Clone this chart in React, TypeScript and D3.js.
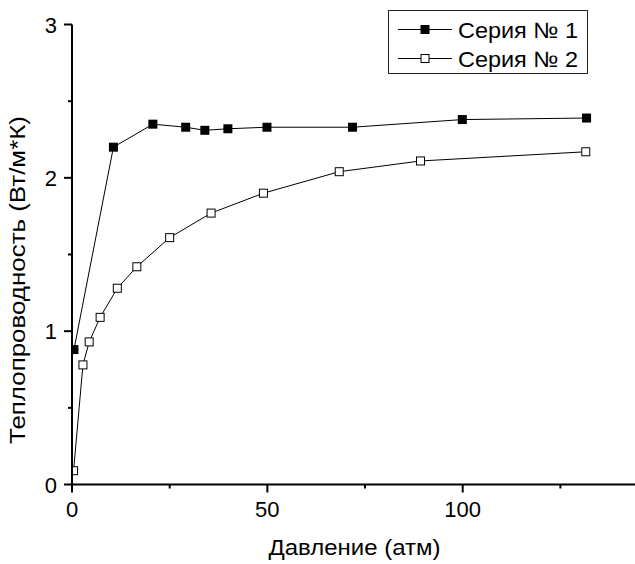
import React from "react";
import * as d3 from "d3";

const series1X = [0.5, 10.6, 20.7, 29.1, 34.0, 39.9, 49.9, 71.8, 99.9, 131.7];
const series1Y = [0.88, 2.2, 2.35, 2.33, 2.31, 2.32, 2.33, 2.33, 2.38, 2.39];
const series2X = [0.4, 2.8, 4.4, 7.2, 11.6, 16.6, 25.0, 35.6, 49.0, 68.4, 89.2, 131.5];
const series2Y = [0.09, 0.78, 0.93, 1.09, 1.28, 1.42, 1.61, 1.77, 1.9, 2.04, 2.11, 2.17];
const xMajorTicks = [0, 50, 100];
const xMinorTicks = [25, 75, 125];
const yMajorTicks = [0, 1, 2, 3];
const yMinorTicks = [0.5, 1.5, 2.5];
const seriesNames = ["Серия № 1", "Серия № 2"];
const xTitle = "Давление (атм)";
const yTitle = "Теплопроводность (Вт/м*К)";

const W = 635;
const H = 564;
const left = 72;
const right = 635;
const top = 24.5;
const bottom = 484.5;
const FONT = "'Liberation Sans', Arial, sans-serif";

export default function App() {
  const x = d3.scaleLinear().domain([0, 144.1]).range([left, right]);
  const y = d3.scaleLinear().domain([0, 3]).range([bottom, top]);
  const line = d3
    .line<[number, number]>()
    .x((d) => x(d[0]))
    .y((d) => y(d[1]));
  const s1: [number, number][] = series1X.map((v, i) => [v, series1Y[i]]);
  const s2: [number, number][] = series2X.map((v, i) => [v, series2Y[i]]);
  const ms = 9;

  return (
    <svg
      width={W}
      height={H}
      style={{ position: "absolute", left: 0, top: 0, background: "#fff" }}
      fontFamily={FONT}
    >
      <defs>
        <clipPath id="plot">
          <rect x={left} y={0} width={right - left} height={bottom} />
        </clipPath>
      </defs>
      <g clipPath="url(#plot)">
        <path d={line(s1) || ""} fill="none" stroke="#000" strokeWidth={1} />
        <path d={line(s2) || ""} fill="none" stroke="#000" strokeWidth={1} />
        {s1.map((d, i) => (
          <rect
            key={"a" + i}
            x={x(d[0]) - ms / 2}
            y={y(d[1]) - ms / 2}
            width={ms}
            height={ms}
            fill="#000"
          />
        ))}
        {s2.map((d, i) => (
          <rect
            key={"b" + i}
            x={x(d[0]) - (ms - 1) / 2}
            y={y(d[1]) - (ms - 1) / 2}
            width={ms - 1}
            height={ms - 1}
            fill="#fff"
            stroke="#000"
            strokeWidth={1}
          />
        ))}
      </g>
      {/* axes */}
      <line x1={left} x2={left} y1={top} y2={bottom + 1} stroke="#000" strokeWidth={2} />
      <line x1={left - 1} x2={right} y1={bottom} y2={bottom} stroke="#000" strokeWidth={2} />
      {xMajorTicks.map((t) => (
        <g key={"xm" + t}>
          <line x1={x(t)} x2={x(t)} y1={bottom} y2={bottom + 8} stroke="#000" strokeWidth={2} />
          <text x={x(t)} y={bottom + 32} textAnchor="middle" fontSize={22}>
            {t}
          </text>
        </g>
      ))}
      {xMinorTicks.map((t) => (
        <line key={"xn" + t} x1={x(t)} x2={x(t)} y1={bottom} y2={bottom + 4} stroke="#000" strokeWidth={2} />
      ))}
      {yMajorTicks.map((t) => (
        <g key={"ym" + t}>
          <line x1={left - 8} x2={left} y1={y(t)} y2={y(t)} stroke="#000" strokeWidth={2} />
          <text x={left - 15} y={y(t) + 8} textAnchor="end" fontSize={22}>
            {t}
          </text>
        </g>
      ))}
      {yMinorTicks.map((t) => (
        <line key={"yn" + t} x1={left - 4} x2={left} y1={y(t)} y2={y(t)} stroke="#000" strokeWidth={2} />
      ))}
      <text
        x={354.5 - 86}
        y={555}
        fontSize={22}
        textLength={172}
        lengthAdjust="spacingAndGlyphs"
      >
        {xTitle}
      </text>
      <text
        transform={`translate(25,${280 + 164}) rotate(-90)`}
        fontSize={22}
        textLength={328}
        lengthAdjust="spacingAndGlyphs"
      >
        {yTitle}
      </text>
      {/* legend */}
      <rect x={388.5} y={10.5} width={199} height={63} fill="#fff" stroke="#222" strokeWidth={1} />
      {seriesNames.map((name, i) => {
        const cy = 29.5 + i * 29;
        return (
          <g key={name}>
            <line x1={398} x2={452} y1={cy} y2={cy} stroke="#000" strokeWidth={1} />
            {i === 0 ? (
              <rect x={425 - ms / 2} y={cy - ms / 2} width={ms} height={ms} fill="#000" />
            ) : (
              <rect x={425 - 4} y={cy - 4} width={8} height={8} fill="#fff" stroke="#000" />
            )}
            <text
              x={458}
              y={cy + 8}
              fontSize={22}
              textLength={120}
              lengthAdjust="spacingAndGlyphs"
            >
              {name}
            </text>
          </g>
        );
      })}
    </svg>
  );
}
